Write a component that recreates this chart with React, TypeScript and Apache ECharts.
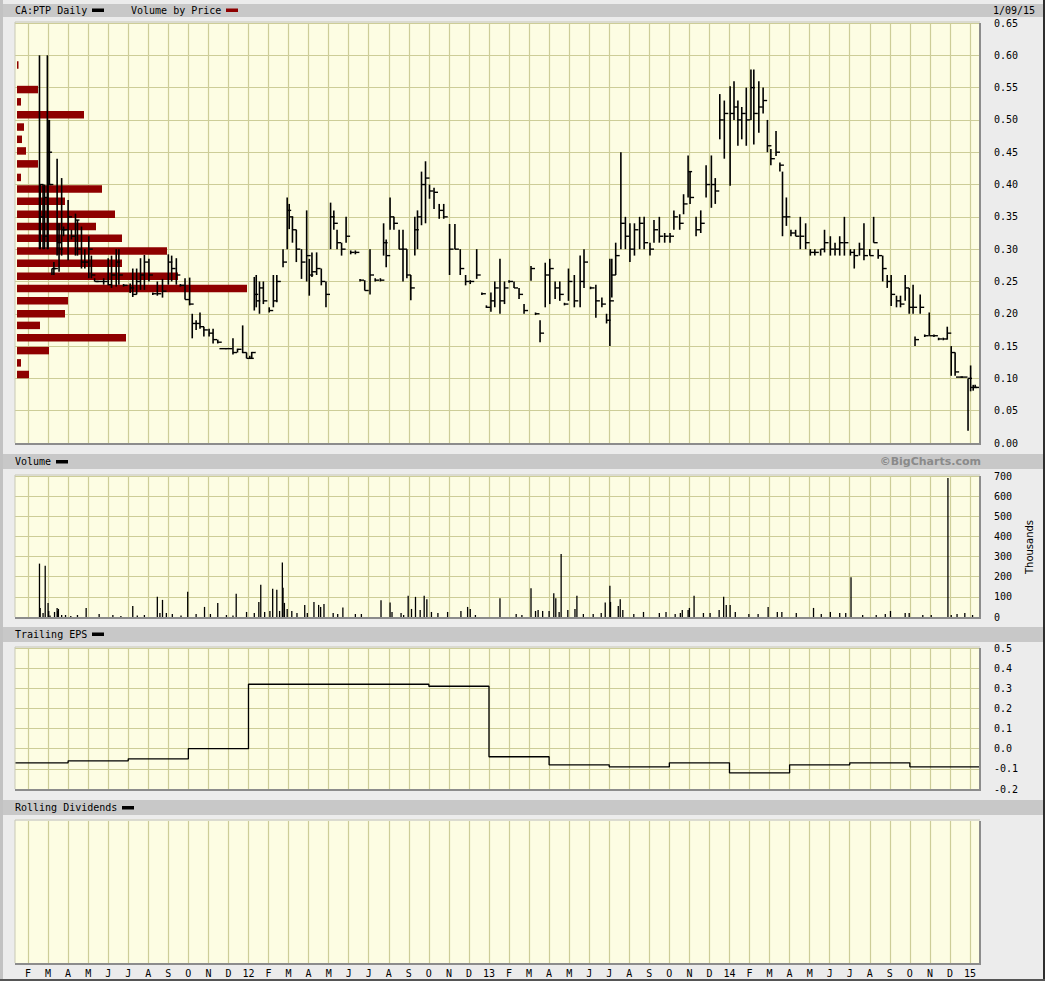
import React, { useEffect, useRef } from "react";
import * as echarts from "echarts";

type Bar = [string, number, number, number]; // date, high, low, close
type Vol = [string, number]; // date, thousands of shares

const PRICE_2011: Bar[] = [
  ["2011-02-17", 0.6, 0.3, 0.4], ["2011-02-18", 0.4, 0.3, 0.35], ["2011-02-22", 0.4, 0.3, 0.32],
  ["2011-02-24", 0.4, 0.3, 0.38], ["2011-02-28", 0.6, 0.3, 0.4], ["2011-03-01", 0.5, 0.3, 0.45],
  ["2011-03-03", 0.5, 0.4, 0.4], ["2011-03-07", 0.27, 0.26, 0.27], ["2011-03-10", 0.28, 0.26, 0.27],
  ["2011-03-15", 0.44, 0.29, 0.31], ["2011-03-18", 0.34, 0.265, 0.3], ["2011-03-22", 0.41, 0.29, 0.33],
  ["2011-03-25", 0.335, 0.32, 0.33], ["2011-04-01", 0.376, 0.283, 0.35], ["2011-04-06", 0.33, 0.315, 0.32],
  ["2011-04-12", 0.355, 0.29, 0.345], ["2011-04-15", 0.345, 0.29, 0.3], ["2011-04-21", 0.335, 0.27, 0.28],
  ["2011-04-26", 0.3, 0.27, 0.28], ["2011-05-02", 0.32, 0.255, 0.3], ["2011-05-06", 0.29, 0.255, 0.26],
  ["2011-05-11", 0.255, 0.25, 0.25], ["2011-05-18", 0.252, 0.249, 0.25], ["2011-05-25", 0.255, 0.245, 0.25],
  ["2011-06-01", 0.286, 0.244, 0.245], ["2011-06-06", 0.29, 0.24, 0.26], ["2011-06-13", 0.3, 0.242, 0.28],
  ["2011-06-17", 0.3, 0.245, 0.26], ["2011-06-24", 0.246, 0.242, 0.244], ["2011-07-04", 0.247, 0.232, 0.24],
  ["2011-07-08", 0.27, 0.226, 0.23], ["2011-07-14", 0.27, 0.23, 0.25], ["2011-07-20", 0.286, 0.237, 0.26],
  ["2011-07-26", 0.291, 0.237, 0.28], ["2011-08-02", 0.285, 0.25, 0.26], ["2011-08-08", 0.233, 0.229, 0.231],
  ["2011-08-15", 0.25, 0.228, 0.231], ["2011-08-23", 0.254, 0.225, 0.235], ["2011-09-01", 0.292, 0.245, 0.28],
  ["2011-09-06", 0.29, 0.25, 0.27], ["2011-09-13", 0.286, 0.245, 0.26], ["2011-09-19", 0.246, 0.242, 0.244],
  ["2011-09-26", 0.255, 0.222, 0.222], ["2011-10-03", 0.256, 0.213, 0.215], ["2011-10-07", 0.2, 0.162, 0.185],
  ["2011-10-13", 0.19, 0.175, 0.185], ["2011-10-19", 0.202, 0.177, 0.18], ["2011-10-25", 0.18, 0.165, 0.175],
  ["2011-11-02", 0.177, 0.165, 0.17], ["2011-11-08", 0.177, 0.154, 0.16], ["2011-11-15", 0.16, 0.154, 0.156],
  ["2011-11-22", 0.148, 0.145, 0.146], ["2011-12-01", 0.148, 0.145, 0.146], ["2011-12-08", 0.162, 0.137, 0.14],
  ["2011-12-15", 0.146, 0.14, 0.145], ["2011-12-23", 0.182, 0.139, 0.14], ["2011-12-29", 0.14, 0.131, 0.131],
];

const PRICE_2012: Bar[] = [
  ["2012-01-03", 0.135, 0.131, 0.131], ["2012-01-06", 0.141, 0.13, 0.14], ["2012-01-10", 0.257, 0.205, 0.23],
  ["2012-01-13", 0.26, 0.21, 0.22], ["2012-01-18", 0.25, 0.2, 0.24], ["2012-01-24", 0.25, 0.215, 0.22],
  ["2012-02-02", 0.21, 0.202, 0.205], ["2012-02-08", 0.26, 0.21, 0.22], ["2012-02-13", 0.26, 0.218, 0.25],
  ["2012-02-22", 0.3, 0.272, 0.28], ["2012-02-28", 0.38, 0.3, 0.36], ["2012-03-02", 0.37, 0.331, 0.35],
  ["2012-03-07", 0.35, 0.31, 0.33], ["2012-03-13", 0.33, 0.28, 0.3], ["2012-03-21", 0.3, 0.254, 0.28],
  ["2012-03-29", 0.36, 0.25, 0.29], ["2012-04-02", 0.285, 0.228, 0.26], ["2012-04-06", 0.295, 0.257, 0.265],
  ["2012-04-13", 0.295, 0.26, 0.27], ["2012-04-20", 0.27, 0.244, 0.25], ["2012-04-27", 0.25, 0.21, 0.23],
  ["2012-05-04", 0.372, 0.3, 0.35], ["2012-05-09", 0.36, 0.33, 0.34], ["2012-05-14", 0.33, 0.3, 0.31],
  ["2012-05-21", 0.31, 0.29, 0.3], ["2012-05-28", 0.35, 0.31, 0.32], ["2012-06-04", 0.298, 0.292, 0.295],
  ["2012-06-11", 0.298, 0.292, 0.295], ["2012-06-18", 0.254, 0.25, 0.252], ["2012-06-25", 0.252, 0.236, 0.236],
  ["2012-07-03", 0.3, 0.23, 0.26], ["2012-07-11", 0.255, 0.25, 0.252], ["2012-07-19", 0.255, 0.25, 0.252],
  ["2012-07-24", 0.34, 0.29, 0.31], ["2012-07-28", 0.315, 0.272, 0.29], ["2012-08-03", 0.38, 0.33, 0.35],
  ["2012-08-09", 0.35, 0.33, 0.34], ["2012-08-17", 0.33, 0.3, 0.3], ["2012-08-23", 0.33, 0.25, 0.3],
  ["2012-08-29", 0.3, 0.255, 0.26], ["2012-09-04", 0.26, 0.221, 0.24], ["2012-09-10", 0.35, 0.29, 0.33],
  ["2012-09-14", 0.36, 0.3, 0.35], ["2012-09-20", 0.42, 0.337, 0.4], ["2012-09-26", 0.436, 0.34, 0.41],
  ["2012-10-02", 0.4, 0.378, 0.39], ["2012-10-09", 0.395, 0.362, 0.388], ["2012-10-17", 0.37, 0.347, 0.36],
  ["2012-10-24", 0.37, 0.347, 0.35], ["2012-11-02", 0.339, 0.26, 0.3], ["2012-11-10", 0.339, 0.3, 0.3],
  ["2012-11-18", 0.3, 0.26, 0.27], ["2012-11-26", 0.26, 0.244, 0.25], ["2012-12-03", 0.252, 0.246, 0.25],
  ["2012-12-13", 0.3, 0.254, 0.26], ["2012-12-21", 0.233, 0.229, 0.231], ["2012-12-28", 0.213, 0.209, 0.21],
];

const PRICE_2013: Bar[] = [
  ["2013-01-04", 0.233, 0.203, 0.22], ["2013-01-10", 0.25, 0.21, 0.24], ["2013-01-18", 0.285, 0.2, 0.22],
  ["2013-01-25", 0.25, 0.215, 0.24], ["2013-02-01", 0.252, 0.248, 0.25], ["2013-02-08", 0.25, 0.24, 0.24],
  ["2013-02-15", 0.24, 0.223, 0.23], ["2013-02-22", 0.215, 0.2, 0.205], ["2013-03-04", 0.274, 0.251, 0.27],
  ["2013-03-11", 0.202, 0.198, 0.2], ["2013-03-18", 0.19, 0.156, 0.17], ["2013-03-26", 0.279, 0.21, 0.26],
  ["2013-04-02", 0.285, 0.215, 0.27], ["2013-04-10", 0.25, 0.223, 0.24], ["2013-04-17", 0.25, 0.22, 0.23],
  ["2013-04-24", 0.217, 0.213, 0.215], ["2013-04-30", 0.27, 0.22, 0.25], ["2013-05-09", 0.26, 0.21, 0.22],
  ["2013-05-18", 0.29, 0.21, 0.25], ["2013-05-24", 0.3, 0.24, 0.28], ["2013-06-03", 0.242, 0.238, 0.24],
  ["2013-06-11", 0.245, 0.194, 0.22], ["2013-06-20", 0.225, 0.21, 0.215], ["2013-06-27", 0.2, 0.185, 0.19],
  ["2013-07-02", 0.285, 0.15, 0.22], ["2013-07-05", 0.285, 0.225, 0.26], ["2013-07-11", 0.31, 0.26, 0.29],
  ["2013-07-19", 0.45, 0.3, 0.34], ["2013-07-26", 0.35, 0.3, 0.32], ["2013-08-02", 0.34, 0.28, 0.3],
  ["2013-08-09", 0.34, 0.29, 0.33], ["2013-08-17", 0.35, 0.3, 0.34], ["2013-08-24", 0.35, 0.3, 0.31],
  ["2013-09-02", 0.31, 0.29, 0.3], ["2013-09-08", 0.345, 0.31, 0.33], ["2013-09-16", 0.35, 0.31, 0.32],
  ["2013-09-24", 0.325, 0.31, 0.32], ["2013-10-02", 0.325, 0.31, 0.32], ["2013-10-08", 0.36, 0.33, 0.35],
  ["2013-10-17", 0.354, 0.33, 0.34], ["2013-10-23", 0.385, 0.354, 0.37], ["2013-10-30", 0.445, 0.38, 0.42],
  ["2013-11-02", 0.42, 0.37, 0.38], ["2013-11-11", 0.35, 0.32, 0.33], ["2013-11-18", 0.36, 0.325, 0.34],
  ["2013-11-26", 0.43, 0.38, 0.4], ["2013-12-04", 0.445, 0.364, 0.4], ["2013-12-10", 0.41, 0.37, 0.39],
  ["2013-12-17", 0.54, 0.47, 0.5], ["2013-12-24", 0.53, 0.44, 0.51],
];

const PRICE_2014: Bar[] = [
  ["2014-01-02", 0.552, 0.398, 0.51], ["2014-01-08", 0.56, 0.5, 0.52], ["2014-01-14", 0.53, 0.46, 0.5],
  ["2014-01-20", 0.52, 0.47, 0.51], ["2014-01-27", 0.55, 0.46, 0.5], ["2014-02-03", 0.578, 0.5, 0.55],
  ["2014-02-07", 0.578, 0.462, 0.51], ["2014-02-14", 0.56, 0.48, 0.52], ["2014-02-20", 0.55, 0.51, 0.53],
  ["2014-02-26", 0.5, 0.45, 0.46], ["2014-03-03", 0.455, 0.43, 0.44], ["2014-03-11", 0.483, 0.444, 0.45],
  ["2014-03-17", 0.434, 0.42, 0.43], ["2014-03-21", 0.42, 0.32, 0.35], ["2014-03-27", 0.38, 0.336, 0.35],
  ["2014-04-03", 0.33, 0.32, 0.325], ["2014-04-10", 0.33, 0.32, 0.32], ["2014-04-17", 0.35, 0.3, 0.32],
  ["2014-04-25", 0.34, 0.3, 0.31], ["2014-05-02", 0.3, 0.29, 0.295], ["2014-05-09", 0.3, 0.29, 0.295],
  ["2014-05-18", 0.3, 0.29, 0.3], ["2014-05-24", 0.33, 0.295, 0.31], ["2014-06-02", 0.32, 0.29, 0.3],
  ["2014-06-09", 0.31, 0.29, 0.3], ["2014-06-16", 0.32, 0.29, 0.31], ["2014-06-23", 0.35, 0.29, 0.31],
  ["2014-07-02", 0.3, 0.29, 0.295], ["2014-07-08", 0.3, 0.27, 0.29], ["2014-07-16", 0.31, 0.29, 0.3],
  ["2014-07-23", 0.34, 0.283, 0.29], ["2014-08-01", 0.3, 0.29, 0.29], ["2014-08-07", 0.35, 0.31, 0.31],
  ["2014-08-14", 0.3, 0.285, 0.29], ["2014-08-21", 0.29, 0.25, 0.27], ["2014-08-28", 0.26, 0.24, 0.25],
  ["2014-09-03", 0.26, 0.212, 0.23], ["2014-09-11", 0.228, 0.21, 0.22], ["2014-09-17", 0.228, 0.21, 0.215],
  ["2014-09-24", 0.26, 0.22, 0.24], ["2014-09-30", 0.24, 0.2, 0.21], ["2014-10-06", 0.245, 0.2, 0.21],
  ["2014-10-09", 0.165, 0.15, 0.16], ["2014-10-17", 0.23, 0.2, 0.21], ["2014-10-24", 0.168, 0.164, 0.166],
  ["2014-10-31", 0.202, 0.166, 0.166], ["2014-11-07", 0.168, 0.164, 0.166], ["2014-11-14", 0.163, 0.159, 0.161],
  ["2014-11-21", 0.163, 0.159, 0.161], ["2014-11-27", 0.18, 0.16, 0.17], ["2014-12-03", 0.15, 0.104, 0.14],
  ["2014-12-09", 0.14, 0.104, 0.11], ["2014-12-15", 0.103, 0.1, 0.102], ["2014-12-22", 0.103, 0.1, 0.102],
  ["2014-12-29", 0.1, 0.019, 0.1], ["2015-01-02", 0.12, 0.08, 0.086], ["2015-01-06", 0.09, 0.081, 0.086],
  ["2015-01-09", 0.09, 0.085, 0.086],
];

const VOLUME_2011: Vol[] = [
  ["2011-02-17", 265], ["2011-02-18", 45], ["2011-02-22", 20], ["2011-02-25", 255], ["2011-03-01", 70],
  ["2011-03-02", 30], ["2011-03-04", 8], ["2011-03-11", 25], ["2011-03-15", 45], ["2011-03-16", 30],
  ["2011-03-17", 40], ["2011-03-22", 10], ["2011-03-28", 10], ["2011-04-05", 5], ["2011-04-15", 10],
  ["2011-04-28", 45], ["2011-05-18", 15], ["2011-06-08", 10], ["2011-06-20", 5], ["2011-07-08", 55],
  ["2011-07-15", 8], ["2011-07-26", 10], ["2011-08-15", 100], ["2011-08-19", 20], ["2011-08-23", 85],
  ["2011-08-29", 20], ["2011-09-07", 15], ["2011-09-20", 8], ["2011-09-30", 125], ["2011-10-13", 15],
  ["2011-10-26", 50], ["2011-11-04", 15], ["2011-11-15", 70], ["2011-11-28", 10], ["2011-12-08", 8],
  ["2011-12-13", 115], ["2011-12-29", 25],
];

const VOLUME_2012: Vol[] = [
  ["2012-01-10", 20], ["2012-01-17", 75], ["2012-01-20", 160], ["2012-01-26", 25], ["2012-02-03", 30],
  ["2012-02-07", 140], ["2012-02-13", 135], ["2012-02-17", 30], ["2012-02-21", 270], ["2012-02-22", 145],
  ["2012-02-24", 70], ["2012-02-28", 40], ["2012-03-06", 30], ["2012-03-14", 20], ["2012-03-26", 60],
  ["2012-03-30", 20], ["2012-04-09", 75], ["2012-04-16", 60], ["2012-04-19", 50], ["2012-04-24", 65],
  ["2012-05-08", 20], ["2012-05-15", 15], ["2012-05-23", 47], ["2012-06-11", 15], ["2012-06-20", 15],
  ["2012-07-20", 83], ["2012-08-03", 72], ["2012-08-06", 25], ["2012-08-20", 20], ["2012-08-24", 10],
  ["2012-08-31", 105], ["2012-09-05", 40], ["2012-09-11", 100], ["2012-09-18", 35], ["2012-09-24", 105],
  ["2012-09-28", 88], ["2012-10-05", 25], ["2012-10-15", 20], ["2012-10-30", 25], ["2012-11-19", 30],
  ["2012-11-29", 50], ["2012-12-03", 40], ["2012-12-11", 10],
];

const VOLUME_2013: Vol[] = [
  ["2013-01-18", 93], ["2013-02-11", 15], ["2013-02-19", 10], ["2013-03-04", 143], ["2013-03-11", 30],
  ["2013-03-15", 35], ["2013-03-22", 30], ["2013-04-01", 30], ["2013-04-08", 118], ["2013-04-11", 93],
  ["2013-04-16", 25], ["2013-04-19", 313], ["2013-04-29", 35], ["2013-05-10", 40], ["2013-05-13", 105],
  ["2013-05-23", 15], ["2013-06-07", 15], ["2013-06-19", 20], ["2013-06-25", 72], ["2013-07-02", 155],
  ["2013-07-03", 75], ["2013-07-15", 55], ["2013-07-18", 88], ["2013-07-22", 35], ["2013-08-08", 15],
  ["2013-08-23", 25], ["2013-09-16", 20], ["2013-09-26", 25], ["2013-10-10", 15], ["2013-10-18", 20],
  ["2013-10-21", 35], ["2013-10-30", 35], ["2013-11-01", 45], ["2013-11-08", 105], ["2013-11-22", 20],
  ["2013-12-02", 20], ["2013-12-16", 35], ["2013-12-23", 100], ["2013-12-27", 60],
];

const VOLUME_2014: Vol[] = [
  ["2014-01-02", 60], ["2014-01-10", 25], ["2014-01-31", 15], ["2014-02-13", 15], ["2014-02-27", 50],
  ["2014-03-13", 25], ["2014-03-20", 25], ["2014-04-11", 20], ["2014-05-07", 45], ["2014-05-19", 15],
  ["2014-06-02", 25], ["2014-06-16", 20], ["2014-06-25", 20], ["2014-07-03", 197], ["2014-07-21", 10],
  ["2014-08-11", 10], ["2014-08-25", 15], ["2014-09-02", 30], ["2014-09-24", 20], ["2014-09-30", 20],
  ["2014-10-21", 10], ["2014-11-03", 10], ["2014-11-28", 690], ["2014-12-03", 10], ["2014-12-12", 15],
  ["2014-12-24", 20], ["2015-01-05", 10],
];

// Volume by price: price level (bin centre) and relative volume
const VBP_PRICE = [0.585, 0.547, 0.528, 0.508, 0.489, 0.47, 0.452, 0.432, 0.411, 0.393, 0.374, 0.354, 0.335,
  0.317, 0.297, 0.278, 0.258, 0.239, 0.22, 0.2, 0.182, 0.163, 0.143, 0.124, 0.106];
const VBP_VOLUME = [1.5, 21, 4, 67, 7, 5, 9, 21, 4, 85, 48, 98, 79, 105, 150, 105, 161, 230, 51, 48, 23, 109,
  32, 4, 12];

const EPS_DATES = ["2011-01-12", "2011-04-01", "2011-07-01", "2011-10-01", "2012-01-01", "2012-10-01",
  "2013-01-01", "2013-04-01", "2013-07-01", "2013-10-01", "2014-01-01", "2014-04-01", "2014-07-01", "2014-10-01"];
const EPS_VALUES = [-0.07, -0.06, -0.05, 0.0, 0.32, 0.31, -0.04, -0.08, -0.09, -0.07, -0.12, -0.08, -0.07, -0.09];

const PRICE_TICKS = { min: 0, max: 0.65, step: 0.05 };
const VOLUME_TICKS = { min: 0, max: 700, step: 100 };
const EPS_TICKS = { min: -0.2, max: 0.5, step: 0.1 };
const MONTH_LETTERS = ["J", "F", "M", "A", "M", "J", "J", "A", "S", "O", "N", "D"];
const FIRST_YEAR = 2011;
const MONTH_TICKS: number[] = [];
for (let m = 1; m <= 48; m++) MONTH_TICKS.push(m);

const X_MIN = 0.35;
const X_MAX = 48.5;

function toX(d: string): number {
  const [y, m, dd] = d.split("-").map(Number);
  const dim = new Date(y, m, 0).getDate();
  return (y - FIRST_YEAR) * 12 + (m - 1) + (dd - 1) / dim;
}

const MONO = '"DejaVu Sans Mono", monospace';
const BG = "#fdfde3";
const GRID_LINE = "#cdcd98";
const L = 15;
const W = 965;
const PANELS = [
  { top: 23, height: 420 },
  { top: 476, height: 141 },
  { top: 648, height: 141 },
  { top: 821, height: 142 },
];

function monthAxis(gridIndex: number, showLabels: boolean) {
  return {
    type: "value",
    gridIndex,
    min: X_MIN,
    max: X_MAX,
    axisLine: { show: false },
    axisTick: { show: false, customValues: MONTH_TICKS },
    axisLabel: {
      show: showLabels,
      customValues: MONTH_TICKS,
      interval: 0,
      margin: 5,
      color: "#000",
      fontFamily: MONO,
      fontSize: 10,
      formatter: (v: number) => {
        const m = Math.round(v);
        const mm = ((m % 12) + 12) % 12;
        if (mm === 0) return String(FIRST_YEAR + m / 12).slice(2);
        return MONTH_LETTERS[mm];
      },
    },
    splitLine: { show: true, lineStyle: { color: GRID_LINE, width: 1.2 } },
  };
}

function valueAxis(gridIndex: number, t: { min: number; max: number; step: number }, digits: number) {
  return {
    type: "value",
    gridIndex,
    position: "right",
    min: t.min,
    max: t.max,
    interval: t.step,
    axisLine: { show: false },
    axisTick: { show: false },
    axisLabel: {
      color: "#000",
      fontFamily: MONO,
      fontSize: 10,
      margin: 14,
      align: "left",
      formatter: (v: number) => (digits >= 0 ? v.toFixed(digits) : String(Math.round(v))),
    },
    splitLine: { show: true, lineStyle: { color: GRID_LINE, width: 1.2 } },
  };
}

function buildOption() {
  const priceData = [...PRICE_2011, ...PRICE_2012, ...PRICE_2013, ...PRICE_2014].map((b) => [toX(b[0]), b[1], b[2], b[3]]);
  const volData = [...VOLUME_2011, ...VOLUME_2012, ...VOLUME_2013, ...VOLUME_2014].map((v) => [toX(v[0]), v[1]]);
  const vbpData = VBP_PRICE.map((p, i) => [VBP_VOLUME[i], p]);
  const epsData = EPS_DATES.map((d, i) => [toX(d), EPS_VALUES[i]]);
  epsData.push([X_MAX, EPS_VALUES[EPS_VALUES.length - 1]]);

  const headerBar = (y: number, h: number) => ({
    type: "rect", shape: { x: 3, y, width: 1040, height: h }, style: { fill: "#c8c8c8" }, z: 50,
  });
  const headText = (text: string, x: number, y: number, extra: any = {}) => ({
    type: "text", x, y, z: 60,
    style: { text, fill: "#000", font: `10px ${MONO}`, textVerticalAlign: "middle", verticalAlign: "middle", ...extra },
  });
  const dash = (x: number, y: number, color: string) => ({
    type: "rect", shape: { x, y, width: 12, height: 3.5 }, style: { fill: color }, z: 60,
  });
  const frameLines: any[] = [];
  PANELS.forEach((p) => {
    frameLines.push({
      type: "polyline", z: 70,
      shape: { points: [[L + W, p.top], [L + W, p.top + p.height + 1], [L, p.top + p.height + 1]] },
      style: { stroke: "#8c8c8c", lineWidth: 2, fill: null },
    });
    frameLines.push({
      type: "polyline", z: 70,
      shape: { points: [[L, p.top + p.height], [L, p.top - 1], [L + W, p.top - 1]] },
      style: { stroke: "#c9c9b4", lineWidth: 1, fill: null },
    });
  });

  return {
    animation: false,
    backgroundColor: "#ececec",
    grid: PANELS.map((p) => ({
      left: L, width: W, top: p.top, height: p.height, show: true,
      backgroundColor: BG, borderWidth: 0, containLabel: false,
    })),
    xAxis: [
      monthAxis(0, false),
      { type: "value", gridIndex: 0, min: -2, max: W - 2, show: false, splitLine: { show: false } },
      monthAxis(1, false),
      monthAxis(2, false),
      monthAxis(3, true),
    ],
    yAxis: [
      valueAxis(0, PRICE_TICKS, 2),
      valueAxis(1, VOLUME_TICKS, -1),
      valueAxis(2, EPS_TICKS, 1),
      { type: "value", gridIndex: 3, min: 0, max: 1, show: false, splitLine: { show: false } },
    ],
    series: [
      {
        type: "custom", name: "Volume by Price", xAxisIndex: 1, yAxisIndex: 0, z: 2, clip: true,
        data: vbpData,
        encode: { x: 0, y: 1 },
        renderItem: (_params: any, api: any) => {
          const v = api.value(0);
          const p = api.value(1);
          const a = api.coord([0, p + 0.0058]);
          const b = api.coord([v, p - 0.0058]);
          return {
            type: "rect",
            shape: { x: a[0], y: a[1], width: Math.max(b[0] - a[0], 1), height: b[1] - a[1] },
            style: { fill: "#8e0000" },
          };
        },
      },
      {
        type: "custom", name: "CA:PTP Daily", xAxisIndex: 0, yAxisIndex: 0, z: 5, clip: true,
        data: priceData,
        encode: { x: 0, y: [1, 2, 3] },
        renderItem: (_params: any, api: any) => {
          const x = api.value(0);
          const hi = api.value(1);
          const lo = api.value(2);
          const cl = api.value(3);
          const t = api.coord([x, hi]);
          const b = api.coord([x, lo]);
          const c = api.coord([x, cl]);
          const children: any[] = [];
          if (b[1] - t[1] < 2) {
            children.push({ type: "line", shape: { x1: c[0] - 3, y1: c[1], x2: c[0] + 4, y2: c[1] }, style: { stroke: "#000", lineWidth: 1.4 } });
          } else {
            children.push({ type: "line", shape: { x1: t[0], y1: t[1], x2: b[0], y2: b[1] }, style: { stroke: "#000", lineWidth: 1.6 } });
            children.push({ type: "line", shape: { x1: c[0], y1: c[1], x2: c[0] + 4, y2: c[1] }, style: { stroke: "#000", lineWidth: 1.4 } });
          }
          return { type: "group", children };
        },
      },
      {
        type: "custom", name: "Volume", xAxisIndex: 2, yAxisIndex: 1, z: 5, clip: true,
        data: volData,
        encode: { x: 0, y: 1 },
        renderItem: (_params: any, api: any) => {
          const x = api.value(0);
          const v = api.value(1);
          const a = api.coord([x, 0]);
          const b = api.coord([x, v]);
          return { type: "line", shape: { x1: a[0], y1: a[1], x2: b[0], y2: b[1] }, style: { stroke: "#000", lineWidth: 1.3 } };
        },
      },
      {
        type: "line", name: "Trailing EPS", xAxisIndex: 3, yAxisIndex: 2, step: "end", showSymbol: false,
        symbol: "none", data: epsData, lineStyle: { color: "#000", width: 1.3 }, z: 5,
      },
    ],
    graphic: [
      { type: "rect", shape: { x: 0, y: 0, width: 3, height: 981 }, style: { fill: "#c2c2c2" }, z: 80 },
      { type: "rect", shape: { x: 1043, y: 0, width: 2, height: 981 }, style: { fill: "#2e2e2e" }, z: 80 },
      { type: "rect", shape: { x: 0, y: 979, width: 1045, height: 2 }, style: { fill: "#555" }, z: 80 },
      headerBar(4, 13),
      headerBar(454, 15),
      headerBar(627, 15),
      headerBar(800, 15),
      headText("CA:PTP Daily", 15, 10.5),
      dash(92, 8.5, "#000"),
      headText("Volume by Price", 131, 10.5),
      dash(226, 8.5, "#8e0000"),
      headText("1/09/15", 993, 10.5),
      headText("Volume", 15, 461.5),
      dash(56, 460, "#000"),
      {
        type: "text", x: 981, y: 461.5, z: 60,
        style: {
          text: "©BigCharts.com", fill: "#8a8a8a", font: 'bold 11px "DejaVu Sans", sans-serif',
          textAlign: "right", align: "right", textVerticalAlign: "middle", verticalAlign: "middle",
        },
      },
      headText("Trailing EPS", 15, 634.5),
      dash(92, 632.5, "#000"),
      headText("Rolling Dividends", 15, 807.5),
      dash(122, 806, "#000"),
      {
        type: "text", x: 1029, y: 547, rotation: Math.PI / 2, z: 60,
        style: {
          text: "Thousands", fill: "#000", font: '10px "DejaVu Sans", sans-serif',
          textAlign: "center", align: "center", textVerticalAlign: "middle", verticalAlign: "middle",
        },
      },
      ...frameLines,
    ],
  };
}

export default function App() {
  const ref = useRef<HTMLDivElement>(null);
  useEffect(() => {
    if (!ref.current) return;
    const chart = echarts.init(ref.current, undefined, { renderer: "svg" });
    chart.setOption(buildOption() as any);
    return () => chart.dispose();
  }, []);
  return <div ref={ref} style={{ position: "absolute", left: 0, top: 0, width: 1045, height: 981 }} />;
}
